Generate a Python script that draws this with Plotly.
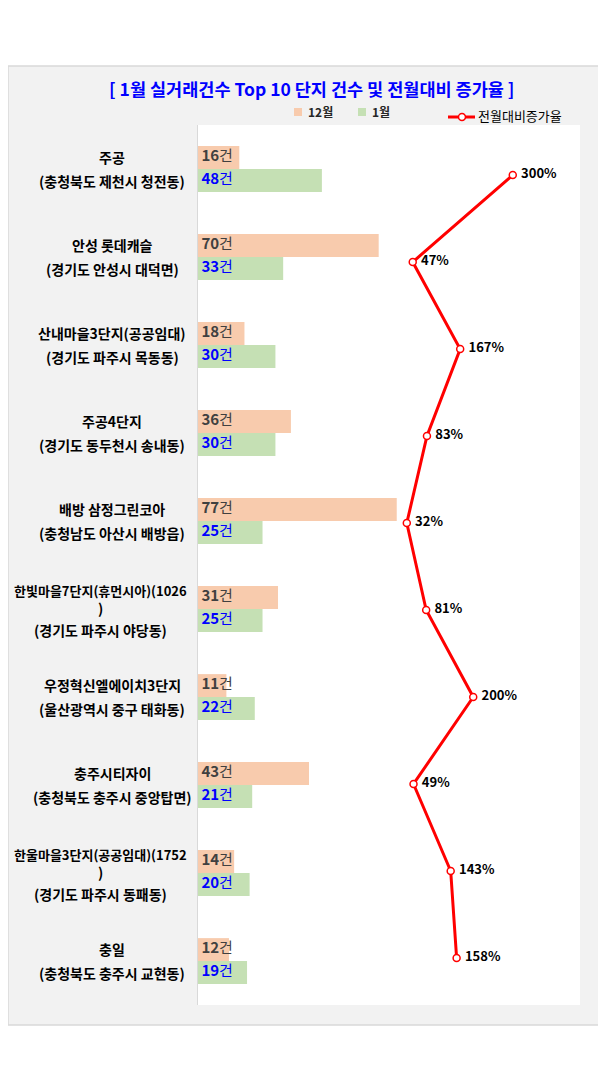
import plotly.graph_objects as go

# Top 10 complexes by January transactions
name_line1 = ["주공", "안성 롯데캐슬", "산내마을3단지(공공임대)", "주공4단지", "배방 삼정그린코아",
              "한빛마을7단지(휴먼시아)(1026", "우정혁신엘에이치3단지", "충주시티자이",
              "한울마을3단지(공공임대)(1752", "충일"]
name_line2 = ["", "", "", "", "", ")", "", "", ")", ""]
region = ["(충청북도 제천시 청전동)", "(경기도 안성시 대덕면)", "(경기도 파주시 목동동)",
          "(경기도 동두천시 송내동)", "(충청남도 아산시 배방읍)", "(경기도 파주시 야당동)",
          "(울산광역시 중구 태화동)", "(충청북도 충주시 중앙탑면)", "(경기도 파주시 동패동)",
          "(충청북도 충주시 교현동)"]
dec_counts = [16, 70, 18, 36, 77, 31, 11, 43, 14, 12]
jan_counts = [48, 33, 30, 30, 25, 25, 22, 21, 20, 19]
rate_pct = [300, 47, 167, 83, 32, 81, 200, 49, 143, 158]

FONT = "Noto Sans CJK KR"
OFF = 8  # page body margin
W, H = 606 - OFF, 1078 - OFF
# plot area in page pixels: x 198..580, y 125..1005
L, T = 198 - OFF, 125 - OFF
R, B = W - (580 - OFF), H - (1005 - OFF)
PW, PH = W - L - R, H - T - B


def px_x(px):
    return (px - OFF - L) / PW


def px_y(py):
    return (H - B - (py - OFF)) / PH


idx = list(range(len(dec_counts)))
y_dec = [i - 0.13 for i in idx]
y_jan = [i + 0.13 for i in idx]

fig = go.Figure()

fig.add_trace(go.Bar(
    x=dec_counts, y=y_dec, orientation="h", width=0.26,
    marker=dict(color="#f8cbad", line=dict(width=0)), name="12월",
    hoverinfo="x",
))
fig.add_trace(go.Bar(
    x=jan_counts, y=y_jan, orientation="h", width=0.26,
    marker=dict(color="#c5e0b4", line=dict(width=0)), name="1월",
    hoverinfo="x",
))

# count labels at the bar base
fig.add_trace(go.Scatter(
    x=[0] * len(dec_counts), y=y_dec, mode="text",
    text=["\u00a0<b>%d</b>건" % v for v in dec_counts], textposition="middle right",
    textfont=dict(family=FONT, size=15, color="#404040"),
    cliponaxis=False, hoverinfo="skip", showlegend=False,
))
fig.add_trace(go.Scatter(
    x=[0] * len(jan_counts), y=y_jan, mode="text",
    text=["\u00a0<b>%d</b>건" % v for v in jan_counts], textposition="middle right",
    textfont=dict(family=FONT, size=15, color="#0000ff"),
    cliponaxis=False, hoverinfo="skip", showlegend=False,
))

# month-over-month ratio line
fig.add_trace(go.Scatter(
    x=rate_pct, y=idx, xaxis="x2", yaxis="y2", mode="lines+markers+text",
    line=dict(color="#ff0000", width=3),
    marker=dict(symbol="circle", size=7, color="white", line=dict(color="#ff0000", width=1.5)),
    text=["\u00a0<b>%d%%</b>" % v for v in rate_pct], textposition="middle right",
    textfont=dict(family=FONT, size=13, color="#000000"),
    cliponaxis=False, name="전월대비증가율",
))

shapes = [
    dict(type="rect", xref="paper", yref="paper", layer="below",
         x0=px_x(OFF), x1=px_x(605), y0=px_y(1025), y1=px_y(66),
         fillcolor="#f2f2f2", line=dict(color="#d9d9d9", width=1.5)),
    dict(type="rect", xref="paper", yref="paper", layer="below",
         x0=0, x1=1, y0=0, y1=1, fillcolor="white", line=dict(width=0)),
    # legend keys
    dict(type="rect", xref="paper", yref="paper",
         x0=px_x(294), x1=px_x(302), y0=px_y(116), y1=px_y(108),
         fillcolor="#f8cbad", line=dict(width=0)),
    dict(type="rect", xref="paper", yref="paper",
         x0=px_x(358), x1=px_x(366), y0=px_y(116), y1=px_y(108),
         fillcolor="#c5e0b4", line=dict(width=0)),
    dict(type="line", xref="paper", yref="paper",
         x0=px_x(448), x1=px_x(475), y0=px_y(117), y1=px_y(117),
         line=dict(color="#ff0000", width=3)),
    dict(type="circle", xref="paper", yref="paper",
         x0=px_x(458.5), x1=px_x(465.5), y0=px_y(120.5), y1=px_y(113.5),
         fillcolor="white", line=dict(color="#ff0000", width=1.5)),
]

annotations = [
    dict(text="<b>[ 1월 실거래건수 Top 10 단지 건수 및 전월대비 증가율 ]</b>",
         xref="paper", yref="paper", x=px_x(311), y=px_y(88),
         xanchor="center", yanchor="middle", showarrow=False,
         font=dict(family=FONT, size=17.5, color="#0000ff")),
    dict(text="<b>12월</b>", xref="paper", yref="paper", x=px_x(306), y=px_y(112),
         xanchor="left", yanchor="middle", showarrow=False,
         font=dict(family=FONT, size=12, color="#262626")),
    dict(text="<b>1월</b>", xref="paper", yref="paper", x=px_x(370), y=px_y(112),
         xanchor="left", yanchor="middle", showarrow=False,
         font=dict(family=FONT, size=12, color="#262626")),
    dict(text="전월대비증가율", xref="paper", yref="paper", x=px_x(476), y=px_y(116),
         xanchor="left", yanchor="middle", showarrow=False,
         font=dict(family=FONT, size=13, color="#000000")),
]

# category labels in the left margin
for i in idx:
    if name_line2[i]:
        lines = [(name_line1[i], -19, 13), (name_line2[i], -1, 14), (region[i], 21, 14)]
        cx = 100
    else:
        lines = [(name_line1[i], -12, 14), (region[i], 12, 14)]
        cx = 112
    for txt, dy, fs in lines:
        annotations.append(dict(
            text="<b>%s</b>" % txt, xref="paper", yref="y", x=0, y=i,
            xshift=cx - 198, yshift=-dy, xanchor="center", yanchor="middle",
            showarrow=False, font=dict(family=FONT, size=fs, color="#000000"),
        ))

# line points sit at 175 + 87*k px, plot spans 125..1005 px
y2_top = 0 - (175 - 125) / 87
y2_bot = 9 + (1005 - (175 + 9 * 87)) / 87

fig.update_layout(
    width=W, height=H,
    margin=dict(l=L, r=R, t=T, b=B),
    paper_bgcolor="white", plot_bgcolor="white",
    barmode="overlay", showlegend=False,
    xaxis=dict(range=[0, 148], visible=False, fixedrange=True),
    xaxis2=dict(range=[-496, 470], overlaying="x", anchor="y", visible=False, fixedrange=True),
    yaxis=dict(range=[9.5, -0.5], showticklabels=False, showgrid=False, zeroline=False,
               ticks="", showline=True, linecolor="#d9d9d9", linewidth=1, fixedrange=True),
    yaxis2=dict(range=[y2_bot, y2_top], overlaying="y", anchor="x", visible=False,
                fixedrange=True),
    shapes=shapes, annotations=annotations,
    font=dict(family=FONT),
)

fig.write_html("out.html")
